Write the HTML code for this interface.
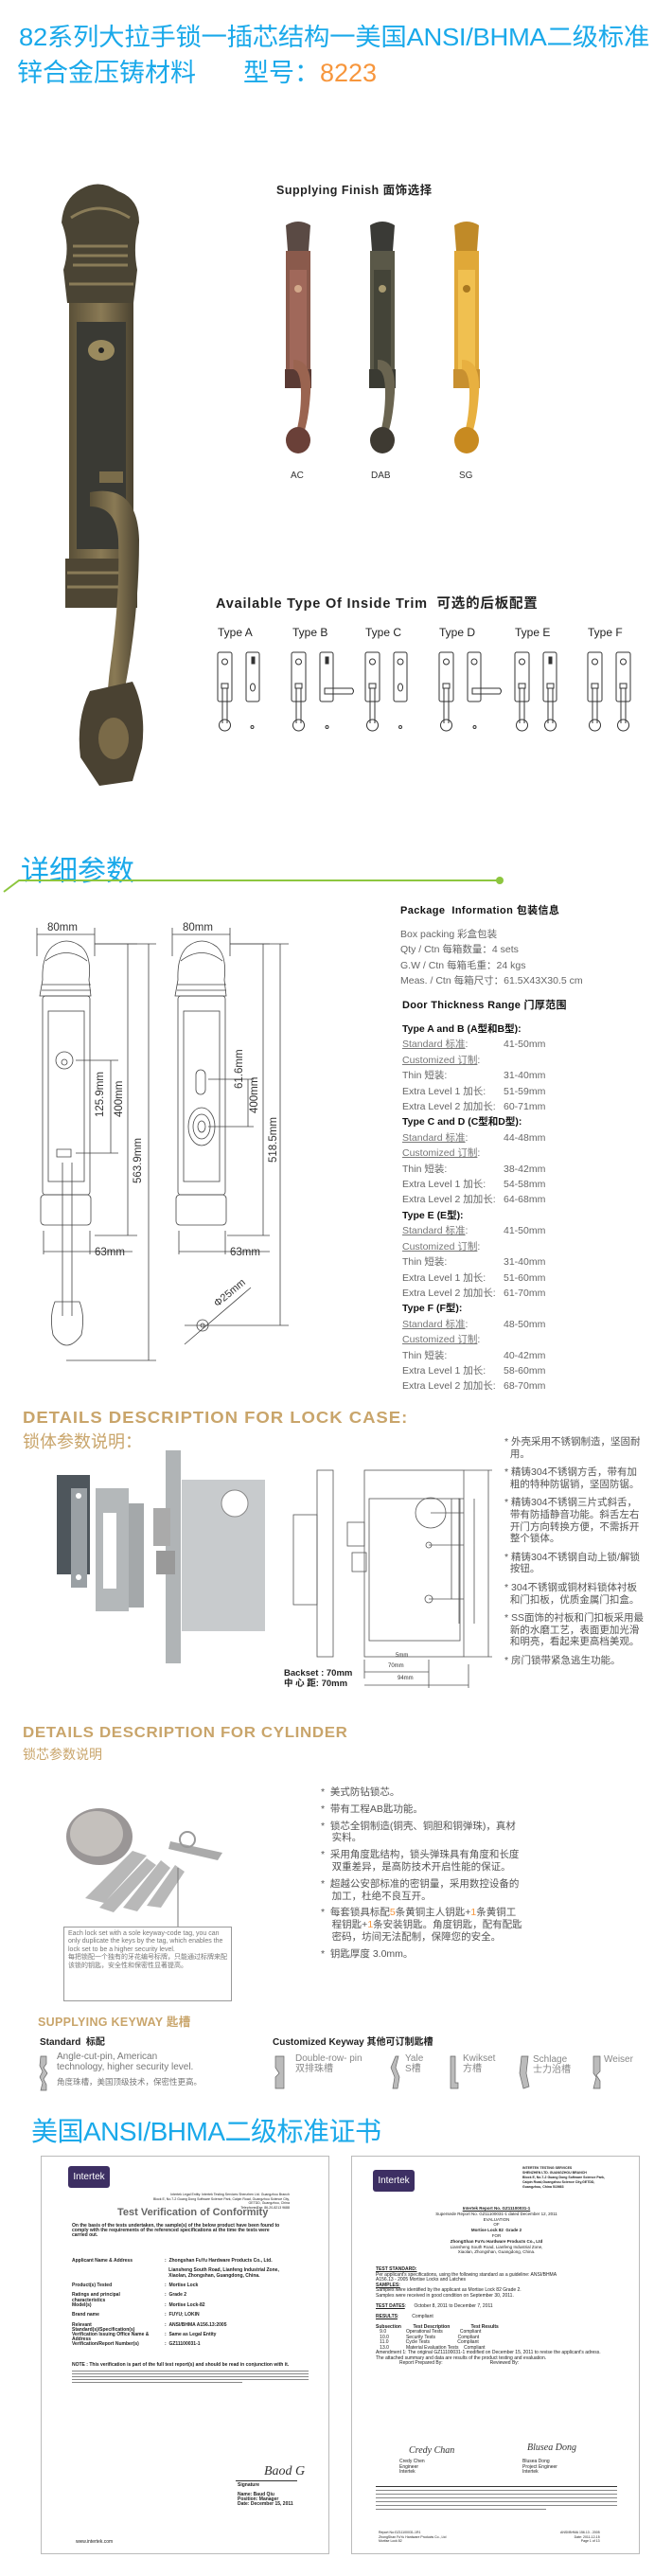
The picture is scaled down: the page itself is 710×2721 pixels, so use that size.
<!DOCTYPE html>
<html><head><meta charset="utf-8">
<style>
*{margin:0;padding:0;box-sizing:border-box}
body{width:710px;height:2721px;background:#fff;position:relative;overflow:hidden;font-family:"Liberation Sans","Noto Sans CJK SC",sans-serif;color:#333}
.a{position:absolute;white-space:nowrap}
.blue{color:#1aa9ea}
.gold{color:#c9a56b;font-weight:bold}
.pk{font-size:10.5px;color:#666;line-height:16.4px}
.pk b{color:#111}
.pk u{color:#777}
.bl{font-size:10.5px;color:#555;line-height:12.6px;white-space:normal}
.cert{position:absolute;border:1px solid #bbb;background:#fff;overflow:hidden}
.ct{position:absolute;white-space:nowrap;font-size:5px;color:#222;font-weight:bold}
.bar{position:absolute;height:2px;background:#888}
</style></head><body>

<div class="a blue" style="left:20px;top:19px;font-size:26px;letter-spacing:-0.3px;transform:scaleX(1.055);transform-origin:left top">82系列大拉手锁一插芯结构一美国ANSI/BHMA二级标准</div>
<div class="a blue" style="left:18px;top:55px;font-size:27px">锌合金压铸材料</div>
<div class="a blue" style="left:257px;top:55px;font-size:27px">型号：<span style="color:#f7963c">8223</span></div>

<svg class="a" style="left:55px;top:190px" width="110" height="645" viewBox="0 0 110 645">
<defs><linearGradient id="br" x1="0" x2="1"><stop offset="0" stop-color="#5a5038"/><stop offset=".5" stop-color="#8a7a55"/><stop offset="1" stop-color="#4a4230"/></linearGradient></defs>
<path d="M30 10 Q50 -2 70 12 Q92 20 92 45 Q85 70 90 95 L86 130 L16 130 L12 95 Q20 70 10 45 Q12 20 30 10Z" fill="#4a4434"/>
<path d="M20 40 Q50 20 82 40 M22 70 L80 70 M22 80 L80 80 M22 90 L80 90 M18 110 L86 110" stroke="#8a7c58" stroke-width="3" fill="none"/>
<rect x="18" y="130" width="68" height="270" fill="url(#br)"/>
<rect x="26" y="150" width="52" height="240" fill="#3a3a34"/>
<ellipse cx="52" cy="180" rx="14" ry="11" fill="#9a8a5e"/><circle cx="52" cy="180" r="3" fill="#222"/>
<rect x="50" y="308" width="25" height="12" fill="#7a6c4a"/>
<rect x="14" y="400" width="76" height="52" fill="#4e4634"/>
<path d="M16 415 L88 415 M16 430 L88 430" stroke="#8a7c58" stroke-width="3"/>
<path d="M40 330 Q90 320 92 380 Q92 450 80 520 Q70 570 80 600 L60 600 Q55 560 62 510 Q72 440 70 380 Q68 345 40 345Z" fill="url(#br)"/>
<path d="M40 540 L85 530 Q100 560 95 600 L85 635 L50 640 L30 610 Q25 570 40 540Z" fill="#4a4232"/>
<ellipse cx="65" cy="590" rx="16" ry="22" fill="#7a6a48"/>
</svg>

<div class="a" style="left:292px;top:190px;font-size:12.5px;font-weight:bold;color:#222;letter-spacing:0.5px">Supplying Finish 面饰选择</div>
<svg class="a" style="left:290px;top:230px" width="230" height="260">
<g>
<path d="M12 8 Q25 0 38 8 L36 35 L14 35Z" fill="#5a4a44"/>
<rect x="12" y="35" width="26" height="140" fill="#8a5a4c"/><rect x="16" y="55" width="18" height="110" fill="#a0685a"/>
<circle cx="25" cy="75" r="4" fill="#d2a88a"/>
<rect x="11" y="160" width="28" height="20" fill="#5a3a34"/>
<path d="M20 150 Q40 150 38 185 Q36 215 30 230 L22 230 Q28 210 28 185 Q28 162 20 160Z" fill="#9a6450"/>
<ellipse cx="25" cy="235" rx="13" ry="14" fill="#6a4038"/>
</g>
<g transform="translate(89,0)">
<path d="M12 8 Q25 0 38 8 L36 35 L14 35Z" fill="#3a3a36"/>
<rect x="12" y="35" width="26" height="140" fill="#5a5848"/><rect x="16" y="55" width="18" height="110" fill="#444438"/>
<circle cx="25" cy="75" r="4" fill="#a89a70"/>
<rect x="11" y="160" width="28" height="20" fill="#3a3a32"/>
<path d="M20 150 Q40 150 38 185 Q36 215 30 230 L22 230 Q28 210 28 185 Q28 162 20 160Z" fill="#6a6450"/>
<ellipse cx="25" cy="235" rx="13" ry="14" fill="#3e3a32"/>
</g>
<g transform="translate(178,0)">
<path d="M12 8 Q25 0 38 8 L36 35 L14 35Z" fill="#c08a28"/>
<rect x="12" y="35" width="26" height="140" fill="#e0a838"/><rect x="16" y="55" width="18" height="110" fill="#f0c050"/>
<circle cx="25" cy="75" r="4" fill="#a87820"/>
<rect x="11" y="160" width="28" height="20" fill="#c89030"/>
<path d="M20 150 Q40 150 38 185 Q36 215 30 230 L22 230 Q28 210 28 185 Q28 162 20 160Z" fill="#e8b040"/>
<ellipse cx="25" cy="235" rx="13" ry="14" fill="#c88a20"/>
</g>
</svg>
<div class="a" style="left:307px;top:497px;font-size:10px">AC</div>
<div class="a" style="left:392px;top:497px;font-size:10px">DAB</div>
<div class="a" style="left:485px;top:497px;font-size:10px">SG</div>

<div class="a" style="left:228px;top:626px;font-size:14.5px;font-weight:bold;color:#222;letter-spacing:0.8px">Available Type Of Inside Trim &nbsp;可选的后板配置</div>
<div class="a" style="left:230px;top:661px;font-size:12px;color:#222">Type A</div>
<div class="a" style="left:309px;top:661px;font-size:12px;color:#222">Type B</div>
<div class="a" style="left:386px;top:661px;font-size:12px;color:#222">Type C</div>
<div class="a" style="left:464px;top:661px;font-size:12px;color:#222">Type D</div>
<div class="a" style="left:544px;top:661px;font-size:12px;color:#222">Type E</div>
<div class="a" style="left:621px;top:661px;font-size:12px;color:#222">Type F</div>
<svg class="a" style="left:0;top:680px" width="710" height="100" fill="none" stroke="#333" stroke-width="1">
<defs>
<g id="p1"><rect x="0" y="9" width="15" height="52" rx="2"/><circle cx="7.5" cy="19" r="3"/><rect x="4" y="42" width="7" height="5"/><path d="M5 47 L5 84 M10 47 L10 84"/><circle cx="7.5" cy="86" r="6"/></g>
<g id="pdot"><circle cx="7.5" cy="88" r="1.5"/></g>
<g id="pthumb"><rect x="0" y="9" width="14" height="52" rx="2"/><rect x="6" y="14" width="3" height="7" fill="#333"/><ellipse cx="7" cy="46" rx="2.5" ry="4"/></g>
<g id="plever"><rect x="0" y="9" width="14" height="52" rx="2"/><rect x="6" y="14" width="3" height="7" fill="#333"/><path d="M5 47 L34 47 Q37 50 34 53 L5 53Z"/></g>
<g id="pkey"><rect x="0" y="9" width="14" height="52" rx="2"/><circle cx="7" cy="19" r="3"/><path d="M5 47 L34 47 Q37 50 34 53 L5 53Z"/></g>
</defs>
<use href="#p1" x="230"/><use href="#pthumb" x="260"/><use href="#pdot" x="259"/>
<use href="#p1" x="308"/><use href="#plever" x="338"/><use href="#pdot" x="338"/>
<use href="#p1" x="386"/>
<g transform="translate(416,0)"><rect x="0" y="9" width="14" height="52" rx="2"/><circle cx="7" cy="19" r="3"/><ellipse cx="7" cy="46" rx="2.5" ry="4"/><circle cx="7" cy="88" r="1.5"/></g>
<use href="#p1" x="464"/><use href="#pkey" x="494"/><use href="#pdot" x="494"/>
<use href="#p1" x="544"/><g transform="translate(574,0)"><rect x="0" y="9" width="14" height="52" rx="2"/><rect x="6" y="14" width="3" height="7" fill="#333"/><rect x="4" y="42" width="7" height="5"/><path d="M5 47 L5 84 M10 47 L10 84"/><circle cx="7.5" cy="86" r="6"/></g>
<use href="#p1" x="621"/><use href="#p1" x="651"/>
</svg>

<div class="a blue" style="left:22px;top:895px;font-size:30px">详细参数</div>
<svg class="a" style="left:0;top:920px" width="540" height="25"><path d="M4 22 L20 10 L528 10" stroke="#8dc63f" stroke-width="2" fill="none"/><circle cx="528" cy="10" r="4" fill="#8dc63f"/></svg>

<svg class="a" style="left:0;top:970px" width="320" height="480" fill="none" stroke="#444" stroke-width="0.8">
<path d="M39 10 L39 40 M100 10 L100 40 M39 17 L100 17"/>
<path d="M45 65 Q44 40 55 30 Q70 18 86 30 Q97 40 94 65 L96 82 L42 82Z"/>
<path d="M48 45 Q70 28 92 45 M44 70 L96 70 M44 76 L96 76"/>
<rect x="45" y="82" width="50" height="210" rx="3"/><rect x="51" y="98" width="38" height="180"/>
<ellipse cx="68" cy="150" rx="9" ry="9"/><circle cx="68" cy="152" r="3"/>
<path d="M60 244 L75 244 L75 252 L60 252Z"/>
<rect x="43" y="292" width="53" height="32" rx="4"/>
<path d="M66 258 L66 420 M76 258 L76 420"/>
<path d="M58 405 Q52 420 56 440 Q70 462 86 440 Q90 420 84 405Z"/>
<path d="M80 150 L125 150 M80 248 L125 248 M117 150 L117 248"/>
<path d="M100 27 L145 27 M135 27 L135 335 M100 335 L145 335"/>
<path d="M100 27 L165 27 M157 27 L157 467 M70 467 L165 467"/>
<path d="M46 330 L46 355 M95 330 L95 355 M46 352 L140 352"/>
<path d="M182 10 L182 40 M243 10 L243 40 M182 17 L243 17"/>
<path d="M188 65 Q187 40 198 30 Q213 18 229 30 Q240 40 237 65 L239 82 L185 82Z"/>
<path d="M191 45 Q213 28 235 45 M187 70 L239 70 M187 76 L239 76"/>
<rect x="188" y="82" width="50" height="210" rx="3"/><rect x="194" y="98" width="38" height="180"/>
<rect x="207" y="160" width="10" height="26" rx="5"/>
<ellipse cx="213" cy="220" rx="14" ry="20"/><ellipse cx="213" cy="220" rx="9" ry="13"/><ellipse cx="213" cy="220" rx="4" ry="6"/>
<rect x="186" y="292" width="53" height="32" rx="4"/>
<path d="M220 170 L268 170 M220 220 L268 220 M262 170 L262 220"/>
<path d="M243 27 L285 27 M278 27 L278 335 M240 335 L285 335"/>
<path d="M243 27 L305 27 M296 27 L296 430 M195 430 L305 430"/>
<path d="M189 330 L189 355 M238 330 L238 355 M189 352 L285 352"/>
<circle cx="214" cy="430" r="6"/><circle cx="214" cy="430" r="2"/><path d="M195 450 L265 390"/>
</svg>
<div class="a" style="left:50px;top:974px;font-size:11.5px">80mm</div>
<div class="a" style="left:193px;top:974px;font-size:11.5px">80mm</div>
<div class="a" style="left:100px;top:1317px;font-size:11.5px">63mm</div>
<div class="a" style="left:243px;top:1317px;font-size:11.5px">63mm</div>
<div class="a" style="left:100px;top:1180px;font-size:11.5px;transform:rotate(-90deg);transform-origin:left top">125.9mm</div>
<div class="a" style="left:120px;top:1180px;font-size:11.5px;transform:rotate(-90deg);transform-origin:left top">400mm</div>
<div class="a" style="left:140px;top:1250px;font-size:11.5px;transform:rotate(-90deg);transform-origin:left top">563.9mm</div>
<div class="a" style="left:247px;top:1150px;font-size:11.5px;transform:rotate(-90deg);transform-origin:left top">61.6mm</div>
<div class="a" style="left:263px;top:1176px;font-size:11.5px;transform:rotate(-90deg);transform-origin:left top">400mm</div>
<div class="a" style="left:283px;top:1228px;font-size:11.5px;transform:rotate(-90deg);transform-origin:left top">518.5mm</div>
<div class="a" style="left:224px;top:1374px;font-size:11px;transform:rotate(-40deg);transform-origin:left top">Φ25mm</div>

<div class="a" style="left:423px;top:953px;font-size:11px;font-weight:bold;color:#111;letter-spacing:0.4px">Package &nbsp;Information 包装信息</div>
<div class="a pk" style="left:423px;top:979px">Box packing 彩盒包装<br>Qty / Ctn 每箱数量：4 sets<br>G.W / Ctn 每箱毛重：24 kgs<br>Meas. / Ctn 每箱尺寸：61.5X43X30.5 cm</div>
<div class="a" style="left:425px;top:1053px;font-size:11px;font-weight:bold;color:#111;letter-spacing:0.3px">Door Thickness Range 门厚范围</div>
<div class="a pk" style="left:425px;top:1079px;line-height:16.4px">
<b>Type A and B (A型和B型):</b><br><u>Standard 标准</u>:<br><u>Customized 订制</u>:<br>Thin 短装:<br>Extra Level 1 加长:<br>Extra Level 2 加加长:<br>
<b>Type C and D (C型和D型):</b><br><u>Standard 标准</u>:<br><u>Customized 订制</u>:<br>Thin 短装:<br>Extra Level 1 加长:<br>Extra Level 2 加加长:<br>
<b>Type E (E型):</b><br><u>Standard 标准</u>:<br><u>Customized 订制</u>:<br>Thin 短装:<br>Extra Level 1 加长:<br>Extra Level 2 加加长:<br>
<b>Type F (F型):</b><br><u>Standard 标准</u>:<br><u>Customized 订制</u>:<br>Thin 短装:<br>Extra Level 1 加长:<br>Extra Level 2 加加长:</div>
<div class="a pk" style="left:532px;top:1079px;line-height:16.4px">
&nbsp;<br>41-50mm<br>&nbsp;<br>31-40mm<br>51-59mm<br>60-71mm<br>
&nbsp;<br>44-48mm<br>&nbsp;<br>38-42mm<br>54-58mm<br>64-68mm<br>
&nbsp;<br>41-50mm<br>&nbsp;<br>31-40mm<br>51-60mm<br>61-70mm<br>
&nbsp;<br>48-50mm<br>&nbsp;<br>40-42mm<br>58-60mm<br>68-70mm</div>

<div class="a gold" style="left:24px;top:1487px;font-size:17.5px;letter-spacing:0.9px;transform:scaleX(1.06);transform-origin:left top">DETAILS DESCRIPTION FOR LOCK CASE:</div>
<div class="a" style="left:24px;top:1509px;font-size:18px;color:#c9a56b">锁体参数说明：</div>
<svg class="a" style="left:55px;top:1528px" width="230" height="235">
<rect x="5" y="30" width="35" height="105" fill="#4e565c"/>
<rect x="20" y="44" width="17" height="105" fill="#9aa0a4"/><circle cx="28" cy="52" r="3" fill="#fff"/><circle cx="28" cy="138" r="3" fill="#fff"/>
<rect x="46" y="44" width="35" height="130" fill="#b4b8ba"/><rect x="54" y="70" width="14" height="80" fill="#fff"/><rect x="81" y="60" width="16" height="110" fill="#a4a8aa"/>
<rect x="120" y="4" width="16" height="225" fill="#b0b4b6"/>
<rect x="137" y="35" width="88" height="160" fill="#c8cbcd"/>
<circle cx="193" cy="60" r="14" fill="#fff" stroke="#888"/>
<rect x="107" y="65" width="18" height="40" fill="#aaa"/><rect x="110" y="110" width="20" height="25" fill="#999"/>
</svg>
<svg class="a" style="left:305px;top:1548px" width="225" height="240" fill="none" stroke="#555" stroke-width="0.8">
<rect x="30" y="5" width="17" height="197"/><rect x="5" y="52" width="25" height="95"/>
<rect x="80" y="5" width="105" height="197"/><rect x="85" y="35" width="96" height="150"/>
<circle cx="150" cy="50" r="16"/><circle cx="148" cy="84" r="3"/><circle cx="148" cy="141" r="4"/>
<rect x="62" y="60" width="18" height="25"/><rect x="67" y="92" width="15" height="20"/>
<path d="M150 50 L185 50 M148 84 L185 84 M148 141 L185 141 M185 5 L215 5 M185 202 L215 202 M179 35 L185 35 M172 35 L172 141 M180 35 L180 167 M196 35 L196 167 M211 5 L211 202 M80 205 L80 225 M148 205 L148 235 M190 210 L190 235 M80 232 L190 232 M80 218 L148 218"/>
</svg>
<div class="a" style="left:300px;top:1762px;font-size:9.5px;font-weight:bold;color:#222;line-height:11px">Backset : 70mm<br>中 心 距: 70mm</div>
<div class="a" style="left:418px;top:1746px;font-size:6px">5mm</div>
<div class="a" style="left:410px;top:1757px;font-size:6px">70mm</div>
<div class="a" style="left:420px;top:1770px;font-size:6px">94mm</div>
<div class="a bl" style="left:533px;top:1517px;width:160px">
<div style="margin-bottom:7px">* 外壳采用不锈钢制造，坚固耐<br>&nbsp;&nbsp;用。</div>
<div style="margin-bottom:7px">* 精铸304不锈钢方舌，带有加<br>&nbsp;&nbsp;粗的特种防锯销，坚固防锯。</div>
<div style="margin-bottom:7px">* 精铸304不锈钢三片式斜舌，<br>&nbsp;&nbsp;带有防插静音功能。斜舌左右<br>&nbsp;&nbsp;开门方向转换方便，不需拆开<br>&nbsp;&nbsp;整个锁体。</div>
<div style="margin-bottom:7px">* 精铸304不锈钢自动上锁/解锁<br>&nbsp;&nbsp;按钮。</div>
<div style="margin-bottom:7px">* 304不锈钢或铜材料锁体衬板<br>&nbsp;&nbsp;和门扣板，优质金属门扣盒。</div>
<div style="margin-bottom:7px">* SS面饰的衬板和门扣板采用最<br>&nbsp;&nbsp;新的水磨工艺，表面更加光滑<br>&nbsp;&nbsp;和明亮，看起来更高档美观。</div>
<div>* 房门锁带紧急逃生功能。</div>
</div>

<div class="a gold" style="left:24px;top:1822px;font-size:15.5px;letter-spacing:0.6px;transform:scaleX(1.09);transform-origin:left top">DETAILS DESCRIPTION FOR CYLINDER</div>
<div class="a" style="left:24px;top:1843px;font-size:14px;color:#c9a56b">锁芯参数说明</div>
<svg class="a" style="left:60px;top:1895px" width="190" height="145">
<ellipse cx="45" cy="45" rx="35" ry="30" fill="#9a9696"/><ellipse cx="42" cy="42" rx="28" ry="24" fill="#c4c0bc"/>
<path d="M30 110 L80 60 L95 65 L50 115Z M45 120 L95 68 L105 75 L60 125Z M70 120 L110 70 L120 78 L85 124Z M95 118 L125 75 L135 82 L110 120Z" fill="#b8b8b8"/>
<path d="M120 50 L175 62 L170 70 L118 58Z" fill="#aaa"/><circle cx="138" cy="48" r="8" fill="none" stroke="#999" stroke-width="2"/>
<path d="M128 78 L128 140" stroke="#777"/>
</svg>
<div class="a" style="left:67px;top:2035px;width:178px;height:79px;border:1px solid #999;font-size:7px;line-height:8.4px;color:#777;white-space:normal;padding:3px 4px">Each lock set with a sole keyway-code tag, you can only duplicate the keys by the tag, which enables the lock set to be a higher security level.<br>每把锁配一个独有的牙花编号标牌，只能通过标牌来配该锁的钥匙，安全性和保密性显著提高。</div>
<div class="a bl" style="left:339px;top:1887px;width:230px;line-height:12.8px">
<div style="margin-bottom:5px">* &nbsp;美式防钻锁芯。</div>
<div style="margin-bottom:5px">* &nbsp;带有工程AB匙功能。</div>
<div style="margin-bottom:5px">* &nbsp;锁芯全铜制造(铜壳、铜胆和铜弹珠)，真材<br>&nbsp;&nbsp;&nbsp;&nbsp;实料。</div>
<div style="margin-bottom:5px">* &nbsp;采用角度匙结构，锁头弹珠具有角度和长度<br>&nbsp;&nbsp;&nbsp;&nbsp;双重差异，是高防技术开启性能的保证。</div>
<div style="margin-bottom:5px">* &nbsp;超越公安部标准的密钥量，采用数控设备的<br>&nbsp;&nbsp;&nbsp;&nbsp;加工，杜绝不良互开。</div>
<div style="margin-bottom:5px">* &nbsp;每套锁具标配<span style="color:#f7963c">5</span>条黄铜主人钥匙+<span style="color:#f7963c">1</span>条黄铜工<br>&nbsp;&nbsp;&nbsp;&nbsp;程钥匙+<span style="color:#f7963c">1</span>条安装钥匙。角度钥匙，配有配匙<br>&nbsp;&nbsp;&nbsp;&nbsp;密码，坊间无法配制，保障您的安全。</div>
<div>* &nbsp;钥匙厚度 3.0mm。</div>
</div>

<div class="a gold" style="left:40px;top:2125px;font-size:12.5px;letter-spacing:0.3px">SUPPLYING KEYWAY 匙槽</div>
<div class="a" style="left:42px;top:2148px;font-size:10px;font-weight:bold;color:#222">Standard &nbsp;标配</div>
<div class="a" style="left:288px;top:2148px;font-size:10px;font-weight:bold;color:#222">Customized Keyway 其他可订制匙槽</div>
<svg class="a" style="left:0;top:2170px" width="710" height="40" fill="#bbb" stroke="#666" stroke-width="0.7">
<path d="M43 2 L49 2 L49 10 L46 14 L50 20 L46 26 L49 32 L49 38 L43 38 L45 30 L42 24 L45 18 L42 12Z"/>
<path d="M291 2 L300 2 L300 36 L291 36 L291 24 L295 20 L291 14Z"/>
<path d="M418 2 L421 2 L418 14 L422 24 L420 36 L415 36 L417 24 L413 14Z"/>
<path d="M476 2 L481 2 L481 30 L484 30 L484 36 L476 36Z"/>
<path d="M551 2 L558 2 L556 20 L559 34 L553 36 L549 20Z"/>
<path d="M627 2 L634 2 L634 18 L630 22 L634 28 L634 36 L627 36 L630 24 L627 20Z"/>
</svg>
<div class="a" style="left:60px;top:2167px;font-size:10px;color:#777;line-height:11px">Angle-cut-pin, American<br>technology, higher security level.</div>
<div class="a" style="left:60px;top:2193px;font-size:8.5px;color:#777">角度珠槽，美国顶级技术，保密性更高。</div>
<div class="a" style="left:312px;top:2170px;font-size:10px;color:#888;line-height:10.5px">Double-row- pin<br>双排珠槽</div>
<div class="a" style="left:428px;top:2170px;font-size:10px;color:#888;line-height:10.5px">Yale<br>S槽</div>
<div class="a" style="left:489px;top:2170px;font-size:10px;color:#888;line-height:10.5px">Kwikset<br>方槽</div>
<div class="a" style="left:563px;top:2171px;font-size:10px;color:#888;line-height:10.5px">Schlage<br>士力治槽</div>
<div class="a" style="left:638px;top:2170px;font-size:10px;color:#888">Weiser</div>

<div class="a blue" style="left:33px;top:2230px;font-size:28px;letter-spacing:-0.5px">美国ANSI/BHMA二级标准证书</div>

<div class="cert" style="left:43px;top:2277px;width:305px;height:421px">
<div class="a" style="left:28px;top:10px;width:44px;height:23px;background:#3d2f63;border-radius:3px;color:#fff;font-size:10px;line-height:23px;text-align:center">Intertek</div>
<div class="ct" style="left:118px;top:38px;font-size:3.5px;font-weight:normal;line-height:4.5px;text-align:right">Intertek Legal Entity: Intertek Testing Services Shenzhen Ltd. Guangzhou Branch<br>Block E, No.7-2 Guang Dong Software Science Park, Caipin Road, Guangzhou Science City,<br>GETDD, Guangzhou, China<br>Telephone/Fax: 86-20-8213 9688</div>
<div class="a" style="left:80px;top:53px;font-size:11px;font-weight:bold;color:#666">Test Verification of Conformity</div>
<div class="ct" style="left:32px;top:71px;line-height:5px">On the basis of the tests undertaken, the sample(s) of the below product have been found to<br>comply with the requirements of the referenced specifications at the time the tests were<br>carried out.</div>
<div class="ct" style="left:32px;top:108px;line-height:5.2px">Applicant Name &amp; Address<br><br><br><br><br>Product(s) Tested<br><br>Ratings and principal<br>characteristics<br>Model(s)<br><br>Brand name<br><br>Relevant<br>Standard(s)/Specification(s)<br>Verification Issuing Office Name &amp;<br>Address<br>Verification/Report Number(s)</div>
<div class="ct" style="left:130px;top:108px;line-height:5.2px">: &nbsp;Zhongshan FuYu Hardware Products Co., Ltd.<br><br>&nbsp;&nbsp;&nbsp;Liansheng South Road, Lianfeng Industrial Zone,<br>&nbsp;&nbsp;&nbsp;Xiaolan, Zhongshan, Guangdong, China.<br><br>: &nbsp;Mortise Lock<br><br>: &nbsp;Grade 2<br><br>: &nbsp;Mortise Lock-82<br><br>: &nbsp;FUYU; LOKIN<br><br>: &nbsp;ANSI/BHMA A156.13:2005<br><br>: &nbsp;Same as Legal Entity<br><br>: &nbsp;GZ11100031-1</div>
<div class="ct" style="left:32px;top:217px">NOTE : This verification is part of the full test report(s) and should be read in conjunction with it.</div>
<div class="bar" style="left:32px;top:226px;width:250px;height:1px"></div><div class="bar" style="left:32px;top:229px;width:250px;height:1px"></div><div class="bar" style="left:32px;top:232px;width:250px;height:1px"></div><div class="bar" style="left:32px;top:235px;width:250px;height:1px"></div><div class="bar" style="left:32px;top:238px;width:180px;height:1px"></div>
<div class="a" style="left:235px;top:325px;font-size:14px;font-style:italic;color:#333;font-family:'Liberation Serif',serif">Baod G</div>
<div class="bar" style="left:205px;top:342px;width:65px;height:1px;background:#333"></div>
<div class="ct" style="left:207px;top:345px;line-height:5px">Signature<br><br>Name: Baud Qiu<br>Position: Manager<br>Date: December 15, 2011</div>
<div class="ct" style="left:36px;top:404px;font-weight:normal">www.intertek.com</div>
</div>

<div class="cert" style="left:371px;top:2277px;width:305px;height:421px">
<div class="a" style="left:22px;top:14px;width:44px;height:23px;background:#3d2f63;border-radius:3px;color:#fff;font-size:10px;line-height:23px;text-align:center">Intertek</div>
<div class="ct" style="left:180px;top:10px;font-size:3.5px;line-height:5px">INTERTEK TESTING SERVICES<br>SHENZHEN LTD. GUANGZHOU BRANCH<br>Block E, No.7-2 Guang Dong Software Science Park,<br>Caipin Road,Guangzhou Science City,GETDD,<br>Guangzhou, China 510663</div>
<div class="a" style="left:30px;top:52px;width:245px;text-align:center;font-size:4.5px;line-height:5.8px;color:#222;white-space:normal">
<b><u>Intertek Report No. GZ11100031-1</u></b><br>Supersede Report No. GZ11100031-1 dated December 12, 2011<br>EVALUATION<br>OF<br><b>Mortise Lock 82 &nbsp;Grade 2</b><br>FOR<br><b>ZhongShan FuYu Hardware Products Co., Ltd</b><br>Liansheng South Road, Lianfeng Industrial Zone,<br>Xiaolan, Zhongshan, Guangdong, China.</div>
<div class="ct" style="left:25px;top:117px;font-weight:normal;line-height:5.5px"><b><u>TEST STANDARD:</u></b><br>Per applicant's specifications, using the following standard as a guideline: ANSI/BHMA<br>A156.13 - 2005 Mortise Locks and Latches<br><b><u>SAMPLES:</u></b><br>Samples were identified by the applicant as Mortise Lock 82 Grade 2.<br>Samples were received in good condition on September 30, 2011.<br><br><b><u>TEST DATES</u></b>: &nbsp;&nbsp;&nbsp;&nbsp;&nbsp;October 8, 2011 to December 7, 2011<br><br><b><u>RESULTS</u></b>: &nbsp;&nbsp;&nbsp;&nbsp;&nbsp;&nbsp;&nbsp;&nbsp;&nbsp;Compliant<br><br><b>Subsection &nbsp;&nbsp;&nbsp;&nbsp;&nbsp;&nbsp;&nbsp;&nbsp;Test Description &nbsp;&nbsp;&nbsp;&nbsp;&nbsp;&nbsp;&nbsp;&nbsp;&nbsp;&nbsp;&nbsp;&nbsp;&nbsp;&nbsp;&nbsp;Test Results</b><br>&nbsp;&nbsp;&nbsp;9.0 &nbsp;&nbsp;&nbsp;&nbsp;&nbsp;&nbsp;&nbsp;&nbsp;&nbsp;&nbsp;&nbsp;&nbsp;&nbsp;&nbsp;Operational Tests &nbsp;&nbsp;&nbsp;&nbsp;&nbsp;&nbsp;&nbsp;&nbsp;&nbsp;&nbsp;&nbsp;&nbsp;Compliant<br>&nbsp;&nbsp;&nbsp;10.0 &nbsp;&nbsp;&nbsp;&nbsp;&nbsp;&nbsp;&nbsp;&nbsp;&nbsp;&nbsp;&nbsp;&nbsp;Security Tests &nbsp;&nbsp;&nbsp;&nbsp;&nbsp;&nbsp;&nbsp;&nbsp;&nbsp;&nbsp;&nbsp;&nbsp;&nbsp;&nbsp;&nbsp;&nbsp;Compliant<br>&nbsp;&nbsp;&nbsp;11.0 &nbsp;&nbsp;&nbsp;&nbsp;&nbsp;&nbsp;&nbsp;&nbsp;&nbsp;&nbsp;&nbsp;&nbsp;Cycle Tests &nbsp;&nbsp;&nbsp;&nbsp;&nbsp;&nbsp;&nbsp;&nbsp;&nbsp;&nbsp;&nbsp;&nbsp;&nbsp;&nbsp;&nbsp;&nbsp;&nbsp;&nbsp;&nbsp;&nbsp;Compliant<br>&nbsp;&nbsp;&nbsp;13.0 &nbsp;&nbsp;&nbsp;&nbsp;&nbsp;&nbsp;&nbsp;&nbsp;&nbsp;&nbsp;&nbsp;&nbsp;Material Evaluation Tests &nbsp;&nbsp;&nbsp;Compliant<br>Amendment 1: The original GZ11100031-1 modified on December 15, 2011 to revise the applicant's adress.<br>The attached summary and data are results of the product testing and evaluation.<br>&nbsp;&nbsp;&nbsp;&nbsp;&nbsp;&nbsp;&nbsp;&nbsp;&nbsp;&nbsp;&nbsp;&nbsp;&nbsp;&nbsp;&nbsp;&nbsp;&nbsp;&nbsp;Report Prepared By: &nbsp;&nbsp;&nbsp;&nbsp;&nbsp;&nbsp;&nbsp;&nbsp;&nbsp;&nbsp;&nbsp;&nbsp;&nbsp;&nbsp;&nbsp;&nbsp;&nbsp;&nbsp;&nbsp;&nbsp;&nbsp;&nbsp;&nbsp;&nbsp;&nbsp;&nbsp;&nbsp;&nbsp;&nbsp;&nbsp;&nbsp;&nbsp;&nbsp;&nbsp;&nbsp;Reviewed By:</div>
<div class="a" style="left:60px;top:305px;font-size:10px;font-style:italic;font-family:'Liberation Serif',serif">Credy Chan</div>
<div class="a" style="left:185px;top:302px;font-size:10px;font-style:italic;font-family:'Liberation Serif',serif">Blusea Dong</div>
<div class="ct" style="left:50px;top:320px;font-weight:normal;line-height:5.5px">Credy Chen<br>Engineer<br>Intertek</div>
<div class="ct" style="left:180px;top:320px;font-weight:normal;line-height:5.5px">Blusea Dong<br>Project Engineer<br>Intertek</div>
<div class="bar" style="left:25px;top:348px;width:255px;height:1px;background:#333"></div>
<div class="bar" style="left:25px;top:352px;width:255px;height:1px"></div><div class="bar" style="left:25px;top:356px;width:255px;height:1px"></div><div class="bar" style="left:25px;top:360px;width:255px;height:1px"></div><div class="bar" style="left:25px;top:364px;width:255px;height:1px"></div><div class="bar" style="left:25px;top:368px;width:255px;height:1px"></div><div class="bar" style="left:25px;top:372px;width:180px;height:1px"></div>
<div class="ct" style="left:28px;top:395px;font-weight:normal;line-height:4.5px;font-size:3.5px">Report No:GZ11100031-1R1<br>ZhongShan FuYu Hardware Products Co., Ltd<br>Mortise Lock 82</div>
<div class="ct" style="left:220px;top:395px;font-weight:normal;line-height:4.5px;font-size:3.5px;text-align:right">ANSI/BHMA 156.13 - 2005<br>Date: 2011-12-15<br>Page 1 of 13</div>
</div>

</body></html>
